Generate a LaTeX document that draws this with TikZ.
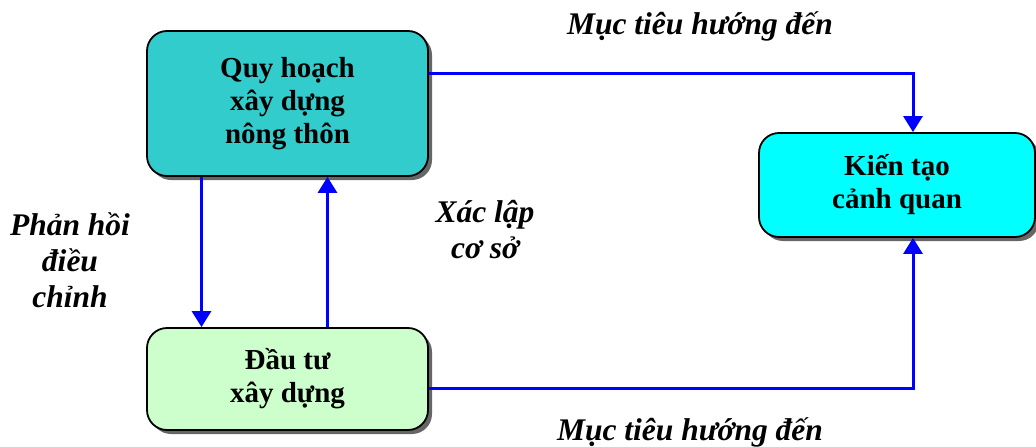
\documentclass[tikz,border=0pt]{standalone}
\usepackage{fontspec}
\setmainfont{Liberation Serif}
\usetikzlibrary{shadows}
\usetikzlibrary{arrows.meta}
\usetikzlibrary{positioning}

\definecolor{qhteal}{HTML}{33CCCC}
\definecolor{dtgreen}{HTML}{CCFFCC}
\definecolor{ktcyan}{HTML}{00FFFF}
\definecolor{linkblue}{HTML}{0000FF}

\tikzset{
  box/.style={draw=black, line width=1.8pt, rounded corners=20pt, align=center,
    font=\bfseries\fontsize{29}{33}\selectfont, inner sep=0pt,
    drop shadow={shadow xshift=4pt, shadow yshift=-4pt, fill=black!60, opacity=1}},
  note/.style={align=center, font=\bfseries\itshape\fontsize{31.5}{36}\selectfont, inner sep=0pt},
  link/.style={draw=linkblue, line width=3pt, -{Triangle[width=19pt,length=16pt]}}
}

\begin{document}
\begin{tikzpicture}[x=1pt, y=-1pt]
\useasboundingbox (0,0) rectangle (1036,447);

\node[box, fill=qhteal, minimum width=281pt, minimum height=145pt] (QH) at (287.5,103.5) {Quy hoạch\\xây dựng\\nông thôn};
\node[box, fill=dtgreen, minimum width=281pt, minimum height=102pt] (DT) at (287.5,379) {Đầu tư\\xây dựng};
\node[box, fill=ktcyan, minimum width=276pt, minimum height=104pt] (KT) at (897,185) {Kiến tạo\\cảnh quan};

\node[note] (MT1) at (700,26) {Mục tiêu hướng đến};
\node[note] (MT2) at (690,432) {Mục tiêu hướng đến};
\node[note] (PH) at (70,260) {Phản hồi\\điều\\chỉnh};
\node[note] (XL) at (485,230) {Xác lập\\cơ sở};

\draw[link] ([yshift=30pt]QH.east) -| ([xshift=16pt]KT.north);
\draw[link] ([yshift=-9pt]DT.east) -| ([xshift=16pt]KT.south);
\draw[link] ([xshift=-86pt]QH.south) -- ([xshift=-86pt]DT.north);
\draw[link] ([xshift=40pt]DT.north) -- ([xshift=40pt]QH.south);
\end{tikzpicture}
\end{document}
